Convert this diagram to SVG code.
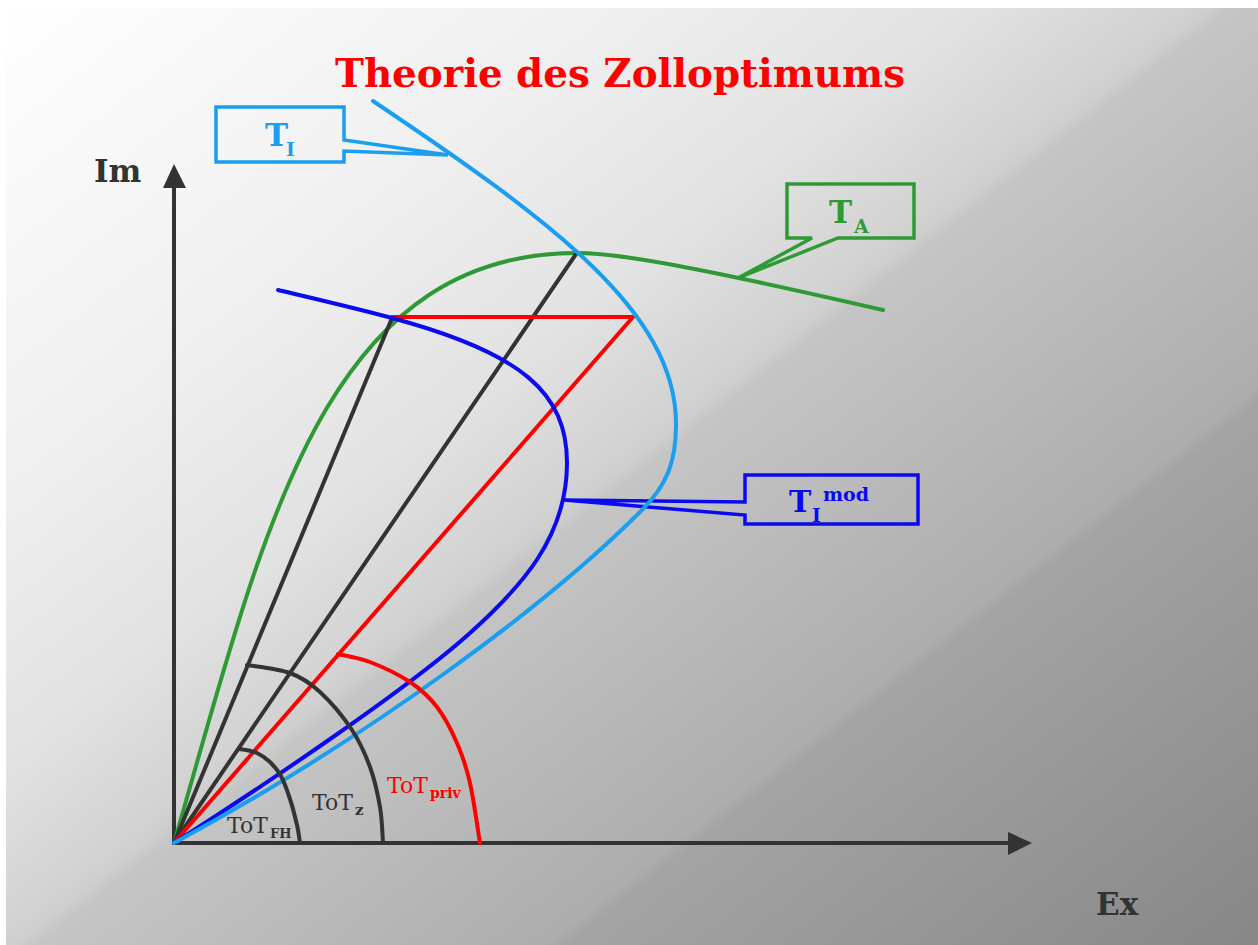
<svg xmlns="http://www.w3.org/2000/svg" width="1258" height="945" viewBox="0 0 1258 945">
<defs>
<linearGradient id="bg" gradientUnits="userSpaceOnUse" x1="0" y1="0" x2="938" y2="1196">
<stop offset="0" stop-color="#ffffff"/>
<stop offset="0.25" stop-color="#f0f0f0"/>
<stop offset="0.4" stop-color="#e2e2e2"/>
<stop offset="0.485" stop-color="#d2d2d2"/>
<stop offset="0.495" stop-color="#cecece"/>
<stop offset="0.505" stop-color="#c5c5c5"/>
<stop offset="0.71" stop-color="#adadad"/>
<stop offset="0.72" stop-color="#a4a4a4"/>
<stop offset="1" stop-color="#878787"/>
</linearGradient>
<style>
.ax{stroke:#333;stroke-width:4;fill:none}
.ah{fill:#333}
.c{fill:none;stroke-width:4;stroke-linecap:round;stroke-linejoin:round}
.g{stroke:#2f9a35}
.k{stroke:#333}
.r{stroke:#ff0000}
.b{stroke:#0a0af0}
.lb{stroke:#1a9ff0}
.co{fill:none;stroke-width:3.5;stroke-linejoin:miter}
.t{font-family:"DejaVu Serif","Liberation Serif",serif}
.bold{font-weight:bold}
</style>
</defs>
<rect x="0" y="0" width="1258" height="945" fill="#ffffff"/>
<rect x="6" y="8" width="1252" height="937" fill="url(#bg)"/>

<g id="title">
<text class="t bold" x="335" y="87" font-size="40" fill="#ff0000" textLength="570" lengthAdjust="spacingAndGlyphs">Theorie des Zolloptimums</text>
</g>

<g id="axes">
<line class="ax" x1="174" y1="843" x2="174" y2="185"/>
<polygon class="ah" points="174,164 163,188 186,188"/>
<line class="ax" x1="172" y1="843" x2="1012" y2="843"/>
<polygon class="ah" points="1032,843 1008,832 1008,855"/>
<text class="t bold" x="94" y="182" font-size="31" fill="#333">Im</text>
<text class="t bold" x="1096" y="915" font-size="31" fill="#333">Ex</text>
</g>

<g id="connectors">
<path id="TA-curve" class="c g" d="M174,843 C262,540 320,253 577,253 C620,253 700,268 883,310"/>
<line class="c k" x1="174" y1="843" x2="392" y2="318"/>
<line class="c k" x1="174" y1="843" x2="576" y2="254"/>
<polyline class="c r" points="174,843 633,317 392,317"/>
<path id="TImod-curve" class="c b" d="M278,290 C316,299 355,308 392,318 C522,353 567,393 567,463 C567,538 520,588 470,633 C410,687 274,779 174,843"/>
</g>

<g id="node-TImod">
<path class="co" stroke="#0a0af0" d="M564,500 L745,502 L745,475 L918,475 L918,524 L745,524 L745,515 Z"/>
<text class="t bold" x="789" y="512" font-size="30" fill="#0a0af0">T</text>
<text class="t bold" x="812" y="522" font-size="19" fill="#0a0af0">I</text>
<text class="t bold" x="823" y="501" font-size="19" fill="#0a0af0">mod</text>
</g>

<g id="TI-line">
<path id="TI-curve" class="c lb" d="M373,101 C550,220 677,312 676,425 C676,460 668,485 640,512 C550,602 374,735 174,843"/>
</g>

<g id="node-TI">
<path class="co" stroke="#1a9ff0" d="M448,155 L344,140 L344,107 L216,107 L216,162 L344,162 L344,151 Z"/>
<text class="t bold" x="265" y="146" font-size="31" fill="#1a9ff0">T</text>
<text class="t bold" x="286" y="156" font-size="19" fill="#1a9ff0">I</text>
</g>

<g id="node-TA">
<path class="co" stroke="#2f9a35" d="M738,278 L812,238 L787,238 L787,184 L914,184 L914,238 L838,238 Z"/>
<text class="t bold" x="829" y="223" font-size="31" fill="#2f9a35">T</text>
<text class="t bold" x="854" y="233" font-size="19" fill="#2f9a35">A</text>
</g>

<g id="arcs">
<path class="c k" d="M239,749 C244.5,749.7 252.3,750.8 257,753 C261.7,755.2 266,758.2 270,762 C274,765.8 277.7,769.8 281,776 C284.3,782.2 287.3,790.8 290,799 C292.7,807.2 295.3,817.7 297,825 C298.7,832.3 299.5,840 300,843"/>
<path class="c k" d="M247,665 C254.2,666.3 277.8,668.5 290,673 C302.2,677.5 309.7,682.5 320,692 C330.3,701.5 343.7,717.5 352,730 C360.3,742.5 365.3,754.2 370,767 C374.7,779.8 377.8,794.3 380,807 C382.2,819.7 382.5,837 383,843"/>
<path class="c r" d="M338,654 C343.3,655.3 358,657.3 370,662 C382,666.7 398.8,674.5 410,682 C421.2,689.5 429.2,696.8 437,707 C444.8,717.2 451.5,730.3 457,743 C462.5,755.7 466.2,766.3 470,783 C473.8,799.7 478.3,833 480,843"/>
</g>

<g id="labels">
<text class="t" x="227" y="833" font-size="22" fill="#333">ToT</text>
<text class="t bold" x="270" y="838" font-size="13" fill="#333">FH</text>
<text class="t" x="312" y="810" font-size="22" fill="#333">ToT</text>
<text class="t bold" x="355" y="815" font-size="15" fill="#333">z</text>
<text class="t" x="387" y="793" font-size="22" fill="#ff0000">ToT</text>
<text class="t bold" x="430" y="798" font-size="14" fill="#ff0000">priv</text>
</g>
</svg>
